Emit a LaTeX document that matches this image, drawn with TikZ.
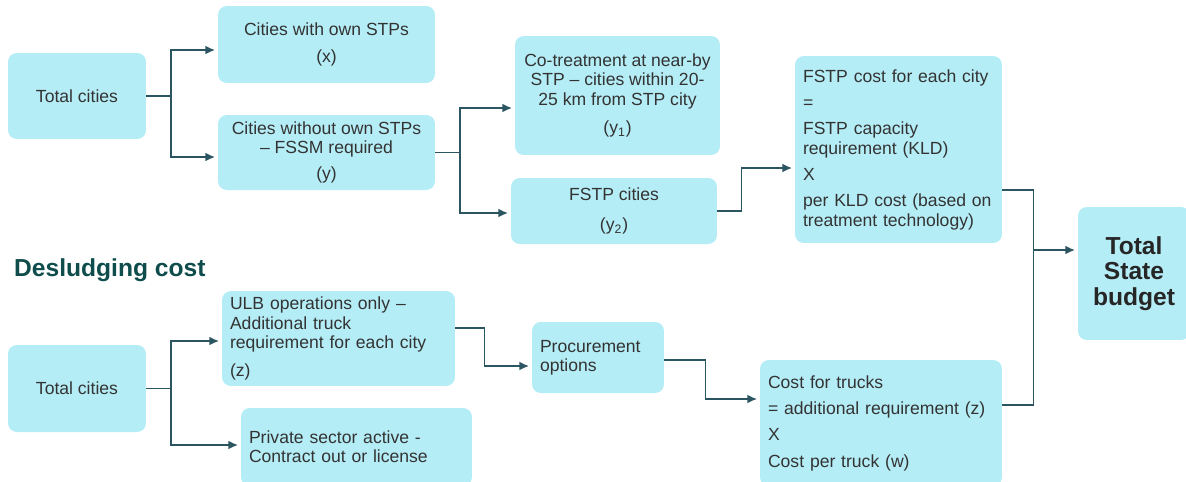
\documentclass[tikz,border=0pt]{standalone}
\usepackage{fontspec}
\setmainfont{Liberation Sans}
\usetikzlibrary{arrows.meta,positioning}
\definecolor{boxfill}{HTML}{B5EDF6}
\definecolor{linkcol}{HTML}{2B5561}
\definecolor{headcol}{HTML}{0F4C4C}
\definecolor{txtcol}{HTML}{333333}

\begin{document}
\begin{tikzpicture}[x=0.02cm, y=-0.02cm,
    box/.style={rectangle, fill=boxfill, rounded corners=5pt, text=txtcol, align=center, font=\fontsize{10}{11}\selectfont},
    lbox/.style={box, align=left, inner xsep=0.16cm},
    link/.style={draw=linkcol, line width=0.9pt, -{Latex[length=5.5pt,width=5pt]}, shorten >=1.5pt}]

                \useasboundingbox (0,0) rectangle (1186,481);

                % treatment cost
                \node[box, minimum width=2.76cm, minimum height=1.72cm] (tc1) at (77,96) {Total cities};
                \node[box, minimum width=4.34cm, minimum height=1.54cm] (own) at (326.5,44.5) {Cities with own STPs\\[4pt](x)};
                \node[box, minimum width=4.34cm, minimum height=1.5cm] (noown) at (326.5,152.5) {Cities without own STPs\\– FSSM required\\[4pt](y)};
                \node[box, minimum width=4.1cm, minimum height=2.38cm] (cotreat) at (617.5,95.5) {Co-treatment at near-by\\STP – cities within 20-\\25 km from STP city\\[5pt](y\textsubscript{1})};
                \node[box, minimum width=4.12cm, minimum height=1.32cm] (fstp) at (614,211) {FSTP cities\\[6pt](y\textsubscript{2})};
                \node[lbox, text width=3.82cm, minimum height=3.74cm] (fcost) at (898.5,149.5) {FSTP cost for each city\\[4pt]=\\[4pt]FSTP capacity\\requirement (KLD)\\[4pt]X\\[4pt]per KLD cost (based on\\treatment technology)};
                \node[box, minimum width=2.24cm, minimum height=2.66cm, font=\bfseries\fontsize{14}{14.5}\selectfont, text=black!85] (tsb) at (1134,273.5) {Total\\State\\budget};

                % desludging cost
                \node[font=\bfseries\fontsize{14}{16}\selectfont, text=headcol, anchor=west] (head) at (8,270) {Desludging cost};
                \node[box, minimum width=2.76cm, minimum height=1.74cm] (tc2) at (77,388.5) {Total cities};
                \node[lbox, text width=4.34cm, minimum height=1.86cm] (ulb) at (338.5,338.5) {ULB operations only –\\Additional truck\\requirement for each city\\[5pt](z)};
                \node[lbox, text width=4.30cm, minimum height=1.56cm] (priv) at (356.5,447) {Private sector active -\\Contract out or license};
                \node[lbox, text width=2.32cm, minimum height=1.42cm] (proc) at (598,357.5) {Procurement\\options};
                \node[lbox, text width=4.52cm, minimum height=2.52cm] (trucks) at (881,423) {Cost for trucks\\[4pt]= additional requirement (z)\\[4pt]X\\[4pt]Cost per truck (w)};

                \foreach \s/ \d/ \o in {tc1/own/-0.11, tc1/noown/-0.09, noown/cotreat/-0.25, noown/fstp/-0.04, tc2/ulb/-0.05, tc2/priv/0.04}{
                    \draw[link] (\s.east) -- ++(0.49cm,0) |- ([yshift=\o cm]\d.west);
                }

                \draw[link] (fstp.east) -- ++(0.48cm,0) |- ([yshift=-0.37cm]fcost.west);
                \draw[link] ([yshift=0.21cm]ulb.east) -- ++(0.58cm,0) |- ([yshift=-0.17cm]proc.west);
                \draw[link] ([yshift=-0.05cm]proc.east) -- ++(0.82cm,0) |- ([yshift=0.48cm]trucks.west);

                \draw[draw=linkcol, line width=0.9pt] ([yshift=-0.81cm]fcost.east) -- ++(0.62cm,0) coordinate (j) |- ([yshift=0.36cm]trucks.east);
                \coordinate (tsbin) at ([yshift=0.47cm]tsb.west);
                \draw[link] (j |- tsbin) -- (tsbin);
        \end{tikzpicture}
\end{document}
